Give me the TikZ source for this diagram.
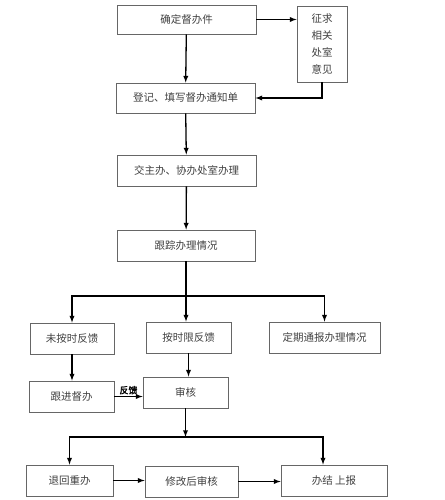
\documentclass[tikz,border=0pt]{standalone}
\usepackage{fontspec}
\setmainfont{Noto Sans CJK SC}[AutoFakeBold=2]
\usepackage{tikz}
\usetikzlibrary{arrows,calc}

\begin{document}
\begin{tikzpicture}[>=latex, x=1pt, y=-1pt,
	kasten/.style={draw=black!60, line width=0.8pt, inner sep=0pt, minimum height=31pt, text=black!75, font=\fontsize{10.5}{16.7}\selectfont},
	pfeil/.style={->, line width=1.3pt, black}]
	
	\useasboundingbox (0,0) rectangle (444,500);
	
	\node[kasten, minimum width=139pt, minimum height=29pt](a) at (186.5,19.5) {确定督办件};
	\node[kasten, minimum width=50pt, minimum height=76pt, align=center](b) at (322,44) {征求\\相关\\处室\\意见};
	\node[kasten, minimum width=139pt, minimum height=30pt](c) at (185.5,98) {登记、填写督办通知单};
	\node[kasten, minimum width=139pt](d) at (186.5,170.5) {交主办、协办处室办理};
	\node[kasten, minimum width=138pt](e) at (186,245.5) {跟踪办理情况};
	
	\node[kasten, minimum width=84pt](f) at (72,338.5) {未按时反馈};
	\node[kasten, minimum width=85pt](g) at (188.5,337.5) {按时限反馈};
	\node[kasten, minimum width=111pt](h) at (324.5,337.5) {定期通报办理情况};
	
	\node[kasten, minimum width=85pt](i) at (71.5,396.5) {跟进督办};
	\node[kasten, minimum width=85pt](j) at (185.5,392.5) {审核};
	
	\node[kasten, minimum width=87pt](k) at (69.5,480.5) {退回重办};
	\node[kasten, minimum width=93pt](l) at (191.5,481.5) {修改后审核};
	\node[kasten, minimum width=106pt](m) at (334,480.5) {办结 上报};
	
	\coordinate (s_oben) at (189,296);
	\coordinate (s_unten) at (189,437);
	\coordinate (m_ein) at ($(m.north)+(-11,0)$);
	
	% senkrechte Linien
	\draw[pfeil] (a) -- (c);
	\draw[pfeil] (c) -- (d);
	\draw[pfeil] (d) -- (e);
	\draw[pfeil] (e.south) -- (e.south |- g.north);
	\draw[pfeil] (f.south) -- (f.south |- i.north);
	\draw[pfeil] (g.south) -- (g.south |- j.north);
	\draw[pfeil] (j.south) -- (j.south |- s_unten);
	
	% Verzweigungen
	\draw[pfeil] (e.south |- s_oben) -| (f.north);
	\draw[pfeil] (e.south |- s_oben) -| (h.north);
	\draw[pfeil] (j.south |- s_unten) -| (k.north);
	\draw[pfeil] (j.south |- s_unten) -| (m_ein);
	
	% horizontale Linien
	\draw[pfeil] (a.east) -- (a.east -| b.west);
	\draw[pfeil] (b.south) |- (c.east);
	\draw[pfeil] (i.east) -- (i.east -| j.west) node[midway, above, inner sep=1.5pt, font=\fontsize{9}{10}\selectfont\bfseries]{反馈};
	\draw[pfeil] (k.east) -- (k.east -| l.west);
	\draw[pfeil] (l.east) -- (l.east -| m.west);
\end{tikzpicture}
\end{document}
